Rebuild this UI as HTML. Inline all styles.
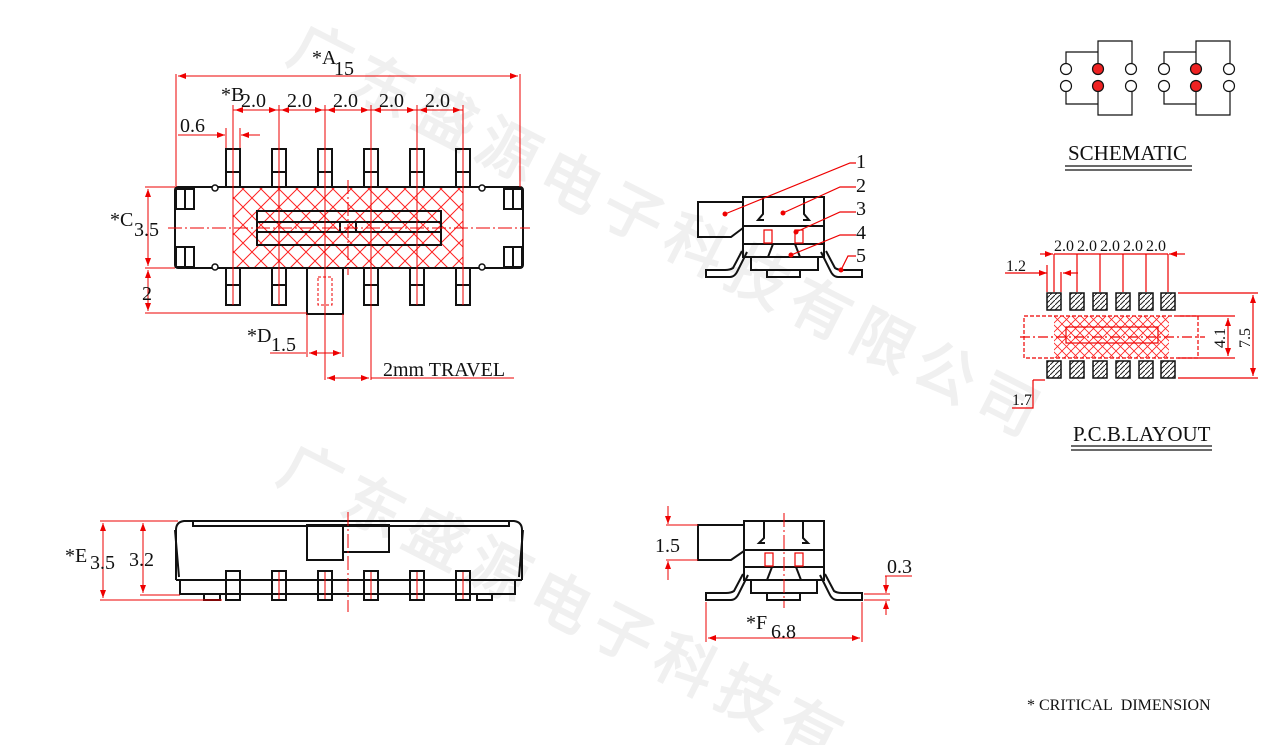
<!DOCTYPE html>
<html><head><meta charset="utf-8"><style>
html,body{margin:0;padding:0;background:#fff;width:1267px;height:745px;overflow:hidden;}
svg{display:block;}
text{font-family:"Liberation Serif",serif;}
.wm{font-family:"Noto Sans CJK SC",sans-serif;font-weight:bold;fill:#f0f0f0;font-size:60px;}
</style></head><body>
<svg width="1267" height="745" viewBox="0 0 1267 745" xmlns="http://www.w3.org/2000/svg" overflow="hidden">
<defs>
<clipPath id="cl"><rect x="0" y="0" width="1267" height="745"/></clipPath>
<pattern id="hx" width="18" height="18" patternUnits="userSpaceOnUse">
<path d="M0 0L18 18M18 0L0 18" stroke="#f22" stroke-width="1"/>
</pattern>
<pattern id="hx2" width="9" height="9" patternUnits="userSpaceOnUse">
<path d="M0 0L9 9M9 0L0 9" stroke="#f22" stroke-width="0.8"/>
</pattern>
<pattern id="ph" width="5" height="5" patternUnits="userSpaceOnUse">
<path d="M0 5L5 0" stroke="#222" stroke-width="1"/>
</pattern>
<marker id="ar" markerWidth="8" markerHeight="6" refX="8" refY="3" orient="auto-start-reverse" markerUnits="userSpaceOnUse"><path d="M0 0L8 3L0 6z" fill="#e00"/></marker>
</defs>

<g class="wm" clip-path="url(#cl)">
<text transform="translate(285,60) rotate(27)" letter-spacing="10">广东盛源电子科技有限公司</text>
<text transform="translate(275,480) rotate(27)" letter-spacing="10">广东盛源电子科技有</text>
</g>

<!-- ============ TOP VIEW ============ -->
<g fill="none" stroke="#111" stroke-width="2">
<g id="pt">
<rect x="226" y="149" width="14" height="38"/><line x1="226" y1="172" x2="240" y2="172"/>
</g>
<use href="#pt" x="46"/><use href="#pt" x="92"/><use href="#pt" x="138"/><use href="#pt" x="184"/><use href="#pt" x="230"/>
<g id="pb">
<rect x="226" y="268" width="14" height="37"/><line x1="226" y1="285" x2="240" y2="285"/>
</g>
<use href="#pb" x="46"/><use href="#pb" x="138"/><use href="#pb" x="184"/><use href="#pb" x="230"/>
<rect x="307" y="268" width="36" height="46"/>
</g>
<rect x="233" y="187" width="230" height="81" fill="url(#hx)" stroke="none"/>
<g fill="none" stroke="#111" stroke-width="2">
<rect x="175" y="187" width="348" height="81" rx="3"/>
<rect x="257" y="211" width="184" height="34"/>
<line x1="258" y1="222" x2="440" y2="222"/><line x1="258" y1="232" x2="440" y2="232"/>
<rect x="340" y="222" width="16" height="10"/>
<rect x="176" y="189" width="18" height="20"/><line x1="185" y1="189" x2="185" y2="209"/>
<rect x="176" y="247" width="18" height="20"/><line x1="185" y1="247" x2="185" y2="267"/>
<rect x="504" y="189" width="18" height="20"/><line x1="513" y1="189" x2="513" y2="209"/>
<rect x="504" y="247" width="18" height="20"/><line x1="513" y1="247" x2="513" y2="267"/>
</g>
<g fill="#fff" stroke="#111" stroke-width="1.5">
<circle cx="215" cy="188" r="3"/><circle cx="215" cy="267" r="3"/>
<circle cx="482" cy="188" r="3"/><circle cx="482" cy="267" r="3"/>
</g>
<g stroke="#e00" stroke-width="1" fill="none">
<line x1="168" y1="228" x2="530" y2="228" stroke-dasharray="14 3 2 3"/>
<line x1="348" y1="180" x2="348" y2="275" stroke-dasharray="14 3 2 3"/>
<rect x="318" y="277" width="14" height="28" stroke-dasharray="3 2"/>
<path d="M233 105V305M279 105V305M325 105V380M371 105V380M417 105V305M463 105V305"/>
<path d="M176 74V187M520 74V187"/>
<line x1="178" y1="76" x2="518" y2="76" marker-start="url(#ar)" marker-end="url(#ar)"/>
<path d="M233 110H463" />
<line x1="235" y1="110" x2="277" y2="110" marker-start="url(#ar)" marker-end="url(#ar)"/>
<line x1="281" y1="110" x2="323" y2="110" marker-start="url(#ar)" marker-end="url(#ar)"/>
<line x1="327" y1="110" x2="369" y2="110" marker-start="url(#ar)" marker-end="url(#ar)"/>
<line x1="373" y1="110" x2="415" y2="110" marker-start="url(#ar)" marker-end="url(#ar)"/>
<line x1="419" y1="110" x2="461" y2="110" marker-start="url(#ar)" marker-end="url(#ar)"/>
<path d="M226 128V148M240 128V148"/>
<line x1="178" y1="135" x2="225" y2="135" marker-end="url(#ar)"/>
<line x1="260" y1="135" x2="241" y2="135" marker-end="url(#ar)"/>
<path d="M145 187H175M145 268H175"/>
<line x1="148" y1="189" x2="148" y2="266" marker-start="url(#ar)" marker-end="url(#ar)"/>
<line x1="148" y1="270" x2="148" y2="311" marker-start="url(#ar)" marker-end="url(#ar)"/>
<path d="M145 313H307"/>
<path d="M307 314V357M343 314V357"/>
<line x1="270" y1="353" x2="306" y2="353"/>
<line x1="309" y1="353" x2="341" y2="353" marker-start="url(#ar)" marker-end="url(#ar)"/>
<line x1="327" y1="378" x2="369" y2="378" marker-start="url(#ar)" marker-end="url(#ar)"/>
<path d="M371 378H514"/>
</g>
<g font-size="20" fill="#111">
<text x="312" y="64">*A</text><text x="334" y="75">15</text>
<text x="221" y="101">*B</text>
<text x="241" y="107">2.0</text><text x="287" y="107">2.0</text><text x="333" y="107">2.0</text><text x="379" y="107">2.0</text><text x="425" y="107">2.0</text>
<text x="180" y="132">0.6</text>
<text x="110" y="226">*C</text><text x="134" y="236">3.5</text>
<text x="142" y="300">2</text>
<text x="247" y="342">*D</text><text x="271" y="351">1.5</text>
<text x="383" y="376">2mm TRAVEL</text>
</g>

<!-- ============ SIDE VIEW (right top) ============ -->
<g fill="none" stroke="#111" stroke-width="2">
<path d="M743 202H698V237H731L743 228"/>
<rect x="743" y="197" width="81" height="60"/>
<path d="M763 197V214L758 220H764M804 197V214L809 220H803"/>
<path d="M743 226H764M803 226H824M743 244H824"/>
<path d="M764 226H803"/>
<path d="M773 244L768 257M795 244L800 257"/>
<rect x="751" y="257" width="67" height="13"/>
<rect x="767" y="270" width="33" height="7"/>
<path d="M742 251L733 268Q730 270 725 270H706V277H730Q735 277 738 270L747 252"/>
<path d="M826 251L835 268Q838 270 843 270H862V277H838Q833 277 830 270L821 252"/>
</g>
<g fill="none" stroke="#e00" stroke-width="1.2">
<rect x="764" y="230" width="8" height="13"/><rect x="795" y="230" width="8" height="13"/>
<path d="M725 214L850 163H856M783 213L840 187H856M796 232L840 212H856M791 255L840 235H856M841 270L848 256H856"/>
</g>
<g fill="#e00"><circle cx="725" cy="214" r="2.5"/><circle cx="783" cy="213" r="2.5"/><circle cx="796" cy="232" r="2.5"/><circle cx="791" cy="255" r="2.5"/><circle cx="841" cy="270" r="2.5"/></g>
<g font-size="20" fill="#111">
<text x="856" y="168">1</text><text x="856" y="192">2</text><text x="856" y="215">3</text><text x="856" y="239">4</text><text x="856" y="262">5</text>
</g>

<!-- ============ SCHEMATIC ============ -->
<g fill="none" stroke="#111" stroke-width="1.2">
<g id="sch">
<path d="M1066 63V52H1098V41H1132V63M1098 52V63"/>
<path d="M1066 92V104H1098V115H1132V92M1098 104V92"/>
<circle cx="1066" cy="69" r="5.5"/><circle cx="1066" cy="86" r="5.5"/>
<circle cx="1131" cy="69" r="5.5"/><circle cx="1131" cy="86" r="5.5"/>
<circle cx="1098" cy="69" r="5.5" fill="#e22"/><circle cx="1098" cy="86" r="5.5" fill="#e22"/>
</g>
<use href="#sch" x="98"/>
<path d="M1065 166H1192M1065 170H1192" stroke-width="1.3"/>
</g>
<text x="1068" y="160" font-size="21" fill="#111">SCHEMATIC</text>

<!-- ============ PCB LAYOUT ============ -->
<rect x="1054" y="316" width="115" height="42" fill="url(#hx2)"/>
<g fill="none" stroke="#e00" stroke-width="1.2">
<rect x="1024" y="316" width="174" height="42" stroke-dasharray="4 2"/>
<rect x="1066" y="327" width="92" height="16"/>
<line x1="1020" y1="337" x2="1205" y2="337" stroke-dasharray="10 3 2 3"/>
<path d="M1054 254V292M1061 272V292M1077 254V292M1100 254V292M1123 254V292M1146 254V292M1168 254V292"/>
<line x1="1040" y1="254" x2="1053" y2="254" marker-end="url(#ar)"/>
<line x1="1185" y1="254" x2="1169" y2="254" marker-end="url(#ar)"/>
<path d="M1054 254H1168"/>
<line x1="1005" y1="273" x2="1047" y2="273" marker-end="url(#ar)"/>
<line x1="1078" y1="273" x2="1063" y2="273" marker-end="url(#ar)"/>
<path d="M1047 265V292"/>
<path d="M1178 293H1258M1178 378H1258M1178 316H1235M1178 358H1235"/>
<line x1="1253" y1="295" x2="1253" y2="376" marker-start="url(#ar)" marker-end="url(#ar)"/>
<line x1="1228" y1="318" x2="1228" y2="356" marker-start="url(#ar)" marker-end="url(#ar)"/>
<path d="M1033 380H1045M1033 380V408H1012"/>
</g>
<g stroke="#111" stroke-width="1.5" fill="url(#ph)">
<rect x="1047" y="293" width="14" height="17"/><rect x="1070" y="293" width="14" height="17"/><rect x="1093" y="293" width="14" height="17"/><rect x="1116" y="293" width="14" height="17"/><rect x="1139" y="293" width="14" height="17"/><rect x="1161" y="293" width="14" height="17"/>
<rect x="1047" y="361" width="14" height="17"/><rect x="1070" y="361" width="14" height="17"/><rect x="1093" y="361" width="14" height="17"/><rect x="1116" y="361" width="14" height="17"/><rect x="1139" y="361" width="14" height="17"/><rect x="1161" y="361" width="14" height="17"/>
</g>
<g font-size="16" fill="#111">
<text x="1054" y="251">2.0</text><text x="1077" y="251">2.0</text><text x="1100" y="251">2.0</text><text x="1123" y="251">2.0</text><text x="1146" y="251">2.0</text>
<text x="1006" y="271">1.2</text>
<text x="1012" y="405">1.7</text>
<text transform="translate(1225,348) rotate(-90)">4.1</text>
<text transform="translate(1250,348) rotate(-90)">7.5</text>
</g>
<g fill="none" stroke="#111" stroke-width="1.3"><path d="M1071 446H1212M1071 450H1212"/></g>
<text x="1073" y="441" font-size="21" fill="#111">P.C.B.LAYOUT</text>

<!-- ============ FRONT VIEW (bottom left) ============ -->
<g fill="none" stroke="#111" stroke-width="2">
<path d="M176 580V530Q176 522 184 521H514Q522 522 522 530V580"/>
<path d="M193 521V526H509V521"/>
<path d="M175 530L179 577M523 530L519 577"/>
<line x1="176" y1="580" x2="522" y2="580"/>
<path d="M180 580V594H515V580"/>
<rect x="307" y="525" width="36" height="35"/>
<path d="M343 525H389V552H343"/>
<g id="fp"><rect x="226" y="571" width="14" height="29"/></g>
<use href="#fp" x="46"/><use href="#fp" x="92"/><use href="#fp" x="138"/><use href="#fp" x="184"/><use href="#fp" x="230"/>
<rect x="204" y="594" width="16" height="6"/><rect x="477" y="594" width="15" height="6"/>
</g>
<g fill="none" stroke="#e00" stroke-width="1">
<line x1="348" y1="512" x2="348" y2="612" stroke-dasharray="14 3 2 3"/>
<path d="M279 572V599M325 572V599M371 572V599M417 572V599M463 572V599"/>
<path d="M100 521H178M140 521H178M100 600H222M140 595H180"/>
<line x1="103" y1="523" x2="103" y2="598" marker-start="url(#ar)" marker-end="url(#ar)"/>
<line x1="143" y1="523" x2="143" y2="593" marker-start="url(#ar)" marker-end="url(#ar)"/>
</g>
<g font-size="20" fill="#111">
<text x="65" y="562">*E</text><text x="90" y="569">3.5</text><text x="129" y="566">3.2</text>
</g>

<!-- ============ SIDE VIEW (bottom middle) ============ -->
<g fill="none" stroke="#111" stroke-width="2">
<path d="M744 525H698V560H731L744 551"/>
<rect x="744" y="521" width="80" height="59"/>
<path d="M764 521V538L759 543H765M803 521V538L808 543H802"/>
<path d="M744 550H824M744 567H824"/>
<path d="M772 567L767 580M796 567L801 580"/>
<rect x="751" y="580" width="66" height="13"/>
<rect x="767" y="593" width="33" height="7"/>
<path d="M743 574L734 591Q731 593 726 593H706V600H731Q736 600 739 593L748 575"/>
<path d="M825 574L834 591Q837 593 842 593H862V600H837Q832 600 829 593L820 575"/>
</g>
<g fill="none" stroke="#e00" stroke-width="1.2">
<rect x="765" y="553" width="8" height="13"/><rect x="795" y="553" width="8" height="13"/>
<line x1="784" y1="513" x2="784" y2="608" stroke-dasharray="14 3 2 3" stroke-width="1"/>
<path d="M666 525H698M666 560H698" stroke-width="1"/>
<line x1="668" y1="506" x2="668" y2="524" marker-end="url(#ar)" stroke-width="1"/>
<line x1="668" y1="580" x2="668" y2="561" marker-end="url(#ar)" stroke-width="1"/>
<path d="M706 602V642M862 602V642" stroke-width="1"/>
<line x1="708" y1="638" x2="860" y2="638" marker-start="url(#ar)" marker-end="url(#ar)" stroke-width="1"/>
<path d="M864 594H890M864 600H890M885 576H912" stroke-width="1"/>
<line x1="886" y1="576" x2="886" y2="593" marker-end="url(#ar)" stroke-width="1"/>
<line x1="886" y1="615" x2="886" y2="601" marker-end="url(#ar)" stroke-width="1"/>
</g>
<g font-size="20" fill="#111">
<text x="655" y="552">1.5</text>
<text x="746" y="629">*F</text><text x="771" y="638">6.8</text>
<text x="887" y="573">0.3</text>
</g>

<text x="1027" y="710" font-size="16" fill="#111">* CRITICAL&#160; DIMENSION</text>
</svg>
</body></html>
